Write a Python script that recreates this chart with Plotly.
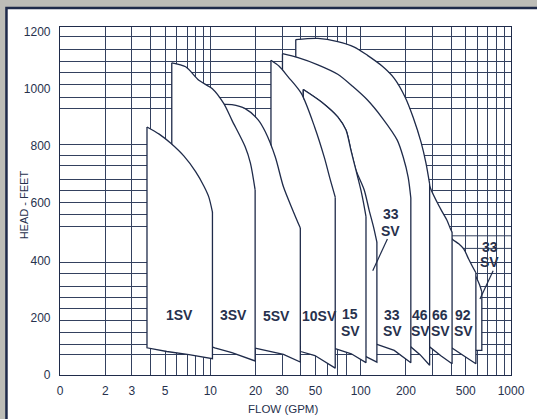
import math
import plotly.graph_objects as go

# ---------------- data (flow in GPM, head in feet) ----------------
# pump regions: top curve (max stages) and bottom curve (min stages)
sv1_top_q = [3.79, 4.57, 5.46, 6.68, 7.98, 9.05, 9.76, 10.33]
sv1_top_h = [866, 841, 809, 764, 710, 660, 622, 569]
sv1_bot_q = [3.79, 5.13, 7.21, 10.33]
sv1_bot_h = [95, 82, 71, 57]

sv3_top_q = [5.54, 6.85, 8.39, 10.27, 12.27, 13.91, 17.05, 18.48, 19.86]
sv3_top_h = [1090, 1076, 1029, 1000, 948, 890, 797, 740, 646]
sv3_bot_q = [5.54, 10.7, 13.91, 19.86]
sv3_bot_h = [150, 95, 78, 49]

sv5_top_q = [12.27, 13.91, 17.05, 20.87, 23.21, 27.02, 30.64, 35.51, 39.68]
sv5_top_h = [945, 944, 930, 890, 849, 762, 657, 573, 513]
sv5_bot_q = [12.27, 19.86, 23.21, 30.64, 39.68]
sv5_bot_h = [150, 94, 86, 72, 45]

sv10_top_q = [25.31, 28.71, 32.93, 40.29, 49.39, 57.5, 62.31, 67.73]
sv10_top_h = [1099, 1078, 1041, 983, 866, 757, 688, 621]
sv10_bot_q = [25.31, 39.93, 49.62, 67.73]
sv10_bot_h = [150, 82, 68, 24]

sv15_top_q = [41.53, 54.61, 70.37, 79.84, 86.11, 92.93, 100.3, 105.6, 108.5]
sv15_top_h = [997, 954, 901, 855, 785, 716, 646, 588, 553]
sv15_bot_q = [41.53, 67.73, 86.6, 108.5]
sv15_bot_h = [150, 92, 74, 43]

sv33a_top_q = [41.53, 54.61, 70.37, 79.84, 86.11, 92.93, 105.6, 113.9, 121.6, 128.2]
sv33a_top_h = [997, 954, 901, 855, 785, 716, 646, 575, 518, 464]
sv33a_bot_q = [41.53, 86.6, 108.5, 128.2]
sv33a_bot_h = [150, 100, 64, 45]

sv33_top_q = [30.19, 38.32, 51.93, 70.37, 88.35, 111.0, 139.4, 175.1, 191.8, 206.9, 215.6]
sv33_top_h = [1122, 1108, 1083, 1050, 1008, 960, 897, 820, 761, 691, 618]
sv33_bot_q = [30.19, 129.8, 167.2, 215.6]
sv33_bot_h = [200, 106, 86, 43]

sv46_top_q = [37.01, 51.93, 70.37, 90.7, 111.0, 139.4, 167.2, 197.7, 223.3, 252.1, 271.9, 287.6]
sv46_top_h = [1171, 1175, 1164, 1145, 1116, 1078, 1036, 970, 900, 813, 740, 667]
sv46_bot_q = [37.01, 129.2, 215.6, 248.3, 287.6]
sv46_bot_h = [200, 140, 98, 71, 34]

sv66_top_q = [175.1, 197.7, 223.3, 252.1, 287.6, 340.1, 374.3, 395.9, 405.5]
sv66_top_h = [994, 960, 890, 803, 660, 580, 541, 510, 499]
sv66_bot_q = [175.1, 287.6, 341.6, 405.5]
sv66_bot_h = [150, 98, 67, 39]

sv92_top_q = [321.4, 363.0, 405.5, 449.0, 484.5, 522.6, 555.3, 584.0]
sv92_top_h = [555, 513, 475, 458, 440, 405, 378, 357]
sv92_bot_q = [321.4, 405.5, 484.5, 584.0]
sv92_bot_h = [150, 94, 67, 39]

sv33b_top_q = [435.5, 507.0, 584.0, 617.8, 639.7]
sv33b_top_h = [437, 395, 343, 315, 290]
sv33b_bot_q = [435.5, 584.0, 639.7]
sv33b_bot_h = [150, 86, 86]

# region labels (text lines, flow, head)
label_text = ["1SV", "3SV", "5SV", "10SV", "15", "SV", "33", "SV", "46", "SV",
              "66", "SV", "92", "SV", "33", "SV", "33", "SV"]
label_q = [6.28, 14.25, 27.37, 53.4, 85.5, 85.5, 162.4, 162.4, 250.0, 250.0,
           338.8, 338.8, 482.6, 482.6, 158.6, 158.6, 723.6, 723.6]
label_h = [209, 209, 207, 207, 213, 155, 209, 155, 209, 155,
           209, 155, 209, 155, 562, 504, 446, 393]

# leader lines for the two pointer labels
leader1_q = [150.6, 120.3]
leader1_h = [475, 364]
leader2_q = [760.8, 621.7]
leader2_h = [364, 265]

# axes
x_tickvals = [1, 2, 3, 5, 10, 20, 30, 50, 100, 200, 500, 1000]
x_ticktext = ["0", "2", "3", "5", "10", "20", "30", "50", "100", "200", "500", "1000"]
x_minor_grid = [4, 6, 7, 8, 9, 40, 60, 70, 80, 300, 400, 600, 700, 800, 900]
y_tickvals = [0, 200, 400, 600, 800, 1000, 1200]
y_grid = [70, 108, 149, 190, 233, 269, 310, 353, 394, 519, 562, 603, 643, 684,
          730, 768, 806, 931, 970, 1013, 1055, 1096, 1137, 1181]
partial_grid_h = [442, 486]
partial_grid_q = [50, 1000]

# ---------------- styling ----------------
NAVY = "#1f2b4a"
GRID = "#34415f"
TEXT = "#27314d"
FRAME_BG = "#bdbdb7"
FONT = "Liberation Sans, Arial, sans-serif"

fig = go.Figure()

for h in partial_grid_h:
    fig.add_trace(go.Scatter(x=partial_grid_q, y=[h, h], mode="lines",
                             line=dict(color=GRID, width=1),
                             hoverinfo="skip", showlegend=False))

regions = [
    (sv33b_top_q, sv33b_top_h, sv33b_bot_q, sv33b_bot_h),
    (sv92_top_q, sv92_top_h, sv92_bot_q, sv92_bot_h),
    (sv66_top_q, sv66_top_h, sv66_bot_q, sv66_bot_h),
    (sv46_top_q, sv46_top_h, sv46_bot_q, sv46_bot_h),
    (sv33_top_q, sv33_top_h, sv33_bot_q, sv33_bot_h),
    (sv33a_top_q, sv33a_top_h, sv33a_bot_q, sv33a_bot_h),
    (sv15_top_q, sv15_top_h, sv15_bot_q, sv15_bot_h),
    (sv10_top_q, sv10_top_h, sv10_bot_q, sv10_bot_h),
    (sv5_top_q, sv5_top_h, sv5_bot_q, sv5_bot_h),
    (sv3_top_q, sv3_top_h, sv3_bot_q, sv3_bot_h),
    (sv1_top_q, sv1_top_h, sv1_bot_q, sv1_bot_h),
]
for tq, th, bq, bh in regions:
    # white area of the pump range
    xs = list(tq) + list(bq)[::-1]
    ys = list(th) + list(bh)[::-1]
    fig.add_trace(go.Scatter(x=xs, y=ys, mode="lines", fill="toself",
                             fillcolor="white", line=dict(width=0, color="white"),
                             hoverinfo="skip", showlegend=False))
    # smooth head-capacity curve on top
    fig.add_trace(go.Scatter(x=tq, y=th, mode="lines",
                             line=dict(color=NAVY, width=1.3, shape="spline", smoothing=0.8),
                             hoverinfo="skip", showlegend=False))
    # right edge, bottom curve and left edge
    ex = [tq[-1]] + list(bq)[::-1] + [tq[0]]
    ey = [th[-1]] + list(bh)[::-1] + [th[0]]
    fig.add_trace(go.Scatter(x=ex, y=ey, mode="lines",
                             line=dict(color=NAVY, width=1.3),
                             hoverinfo="skip", showlegend=False))

for lq, lh in [(leader1_q, leader1_h), (leader2_q, leader2_h)]:
    fig.add_trace(go.Scatter(x=lq, y=lh, mode="lines",
                             line=dict(color=NAVY, width=1.2),
                             hoverinfo="skip", showlegend=False))

annotations = []
for t, q, h in zip(label_text, label_q, label_h):
    annotations.append(dict(x=math.log10(q), y=h, xref="x", yref="y", text=t,
                            showarrow=False, xanchor="center", yanchor="middle",
                            font=dict(family=FONT, size=14, color=TEXT, weight="bold")))

annotations.append(dict(x=-0.0791, y=0.4885, xref="paper", yref="paper",
                        text="HEAD - FEET", textangle=-90, showarrow=False,
                        xanchor="center", yanchor="middle",
                        font=dict(family=FONT, size=11, color=TEXT)))
annotations.append(dict(x=0.4945, y=-0.0977, xref="paper", yref="paper",
                        text="FLOW (GPM)", showarrow=False,
                        xanchor="center", yanchor="middle",
                        font=dict(family=FONT, size=11.5, color=TEXT)))

fig.update_layout(
    width=537, height=419, autosize=False,
    margin=dict(l=60, r=22, t=27, b=44),
    paper_bgcolor=FRAME_BG,
    plot_bgcolor="white",
    showlegend=False,
    annotations=annotations,
    shapes=[dict(type="rect", xref="paper", yref="paper",
                 x0=-0.1187, x1=1.2, y0=-0.3, y1=1.0546,
                 fillcolor="white", line=dict(color=NAVY, width=2.5),
                 layer="below")],
    xaxis=dict(type="log", range=[0, 3], tickmode="array",
               tickvals=x_tickvals, ticktext=x_ticktext,
               showgrid=True, gridcolor=GRID, gridwidth=1,
               minor=dict(tickmode="array", tickvals=x_minor_grid, showgrid=True,
                          gridcolor=GRID, gridwidth=1, ticks=""),
               showline=True, mirror=True, linecolor=NAVY, linewidth=1.2,
               ticks="", ticklabelstandoff=4, zeroline=False,
               tickfont=dict(family=FONT, size=12, color=TEXT)),
    yaxis=dict(range=[0, 1215], tickmode="array", tickvals=y_tickvals,
               showgrid=False,
               minor=dict(tickmode="array", tickvals=y_grid, showgrid=True,
                          gridcolor=GRID, gridwidth=1, ticks=""),
               showline=True, mirror=True, linecolor=NAVY, linewidth=1.2,
               ticks="", ticklabelstandoff=6, zeroline=False,
               tickfont=dict(family=FONT, size=12, color=TEXT)),
)

fig.write_html(
    "out.html",
    config={"displayModeBar": False},
    post_script="document.body.style.margin='0px';"
                "document.body.style.background='" + FRAME_BG + "';",
)
